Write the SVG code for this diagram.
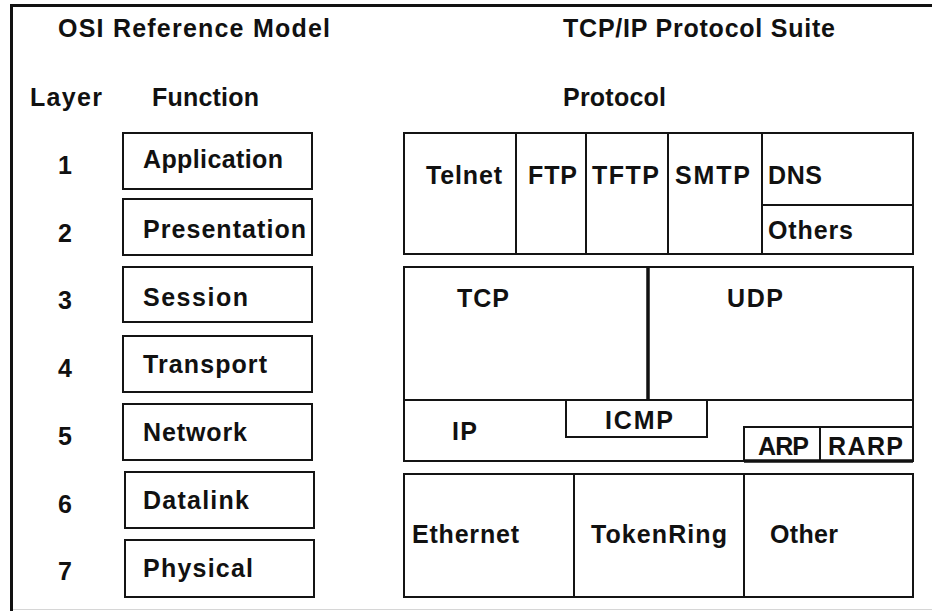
<svg xmlns="http://www.w3.org/2000/svg" width="932" height="611" viewBox="0 0 932 611">
  <style>
    .bx{fill:none;stroke:#141414;stroke-width:2}
    .ln{fill:none;stroke:#141414;stroke-width:2}
    .thk{fill:none;stroke:#111;stroke-width:3.5}
    .t{font-family:"Liberation Sans",Arial,sans-serif;font-weight:bold;font-size:25px;fill:#111}
    .n{text-anchor:middle}
  </style>
  <rect width="932" height="611" fill="#fff"/>

  <!-- outer frame -->
  <g id="frame">
    <path d="M11.5 611V5.5H932" fill="none" stroke="#111" stroke-width="3"/>
    <line x1="13" y1="609.5" x2="932" y2="609.5" stroke="#d6d6d6" stroke-width="1"/>
  </g>

  <!-- headings -->
  <g id="headings">
    <text class="t" x="58" y="37" textLength="272">OSI Reference Model</text>
    <text class="t" x="563" y="37" textLength="272">TCP/IP Protocol Suite</text>
    <text class="t" x="30" y="106" textLength="72">Layer</text>
    <text class="t" x="152" y="106" textLength="107">Function</text>
    <text class="t" x="563" y="106" textLength="103">Protocol</text>
  </g>

  <!-- layer numbers -->
  <g id="layer-numbers">
    <text class="t n" x="65" y="174">1</text>
    <text class="t n" x="65" y="242">2</text>
    <text class="t n" x="65" y="309">3</text>
    <text class="t n" x="65" y="377">4</text>
    <text class="t n" x="65" y="445">5</text>
    <text class="t n" x="65" y="513">6</text>
    <text class="t n" x="65" y="580">7</text>
  </g>

  <!-- OSI function boxes -->
  <g id="osi-application">
    <rect class="bx" x="123" y="133" width="189" height="56"/>
    <text class="t" x="143" y="168" textLength="140">Application</text>
  </g>
  <g id="osi-presentation">
    <rect class="bx" x="123" y="199" width="189" height="56"/>
    <text class="t" x="143" y="238" textLength="163">Presentation</text>
  </g>
  <g id="osi-session">
    <rect class="bx" x="123" y="267" width="189" height="55"/>
    <text class="t" x="143" y="306" textLength="105">Session</text>
  </g>
  <g id="osi-transport">
    <rect class="bx" x="123" y="336" width="189" height="56"/>
    <text class="t" x="143" y="373" textLength="124">Transport</text>
  </g>
  <g id="osi-network">
    <rect class="bx" x="123" y="404" width="189" height="56"/>
    <text class="t" x="143" y="441" textLength="104">Network</text>
  </g>
  <g id="osi-datalink">
    <rect class="bx" x="125" y="472" width="189" height="56"/>
    <text class="t" x="143" y="509" textLength="106">Datalink</text>
  </g>
  <g id="osi-physical">
    <rect class="bx" x="125" y="540" width="189" height="57"/>
    <text class="t" x="143" y="577" textLength="110">Physical</text>
  </g>

  <!-- application protocols -->
  <g id="app-protocols">
    <rect class="bx" x="404" y="133" width="509" height="121"/>
    <path class="ln" d="M516 133V254M586 133V254M668 133V254M762 133V254M762 205H913"/>
    <text class="t" x="426" y="184" textLength="76">Telnet</text>
    <text class="t" x="528" y="184" textLength="49">FTP</text>
    <text class="t" x="592" y="184" textLength="67">TFTP</text>
    <text class="t" x="675" y="184" textLength="75">SMTP</text>
    <text class="t" x="768" y="184" textLength="54">DNS</text>
    <text class="t" x="768" y="239" textLength="85">Others</text>
  </g>

  <!-- transport and internet protocols -->
  <g id="transport-internet">
    <rect class="bx" x="404" y="267" width="509" height="194"/>
    <path class="ln" d="M404 400H913"/>
    <path class="thk" d="M648 267V400"/>
    <text class="t" x="457" y="307" textLength="52">TCP</text>
    <text class="t" x="727" y="307" textLength="56">UDP</text>
    <text class="t" x="452" y="440" textLength="25">IP</text>
  </g>
  <g id="icmp">
    <path class="ln" d="M566 400V437H707V400"/>
    <text class="t" x="605" y="429" textLength="68">ICMP</text>
  </g>
  <g id="arp-rarp">
    <path class="ln" d="M744 461V427H913M820 427V461"/>
    <path class="thk" d="M744 461H913"/>
    <text class="t" x="758" y="455" textLength="51">ARP</text>
    <text class="t" x="828" y="455" textLength="75">RARP</text>
  </g>

  <!-- link-layer protocols -->
  <g id="link-protocols">
    <rect class="bx" x="404" y="474" width="509" height="123"/>
    <path class="ln" d="M574 474V597M744 474V597"/>
    <text class="t" x="412" y="543" textLength="107">Ethernet</text>
    <text class="t" x="591" y="543" textLength="136">TokenRing</text>
    <text class="t" x="770" y="543" textLength="68">Other</text>
  </g>
</svg>
